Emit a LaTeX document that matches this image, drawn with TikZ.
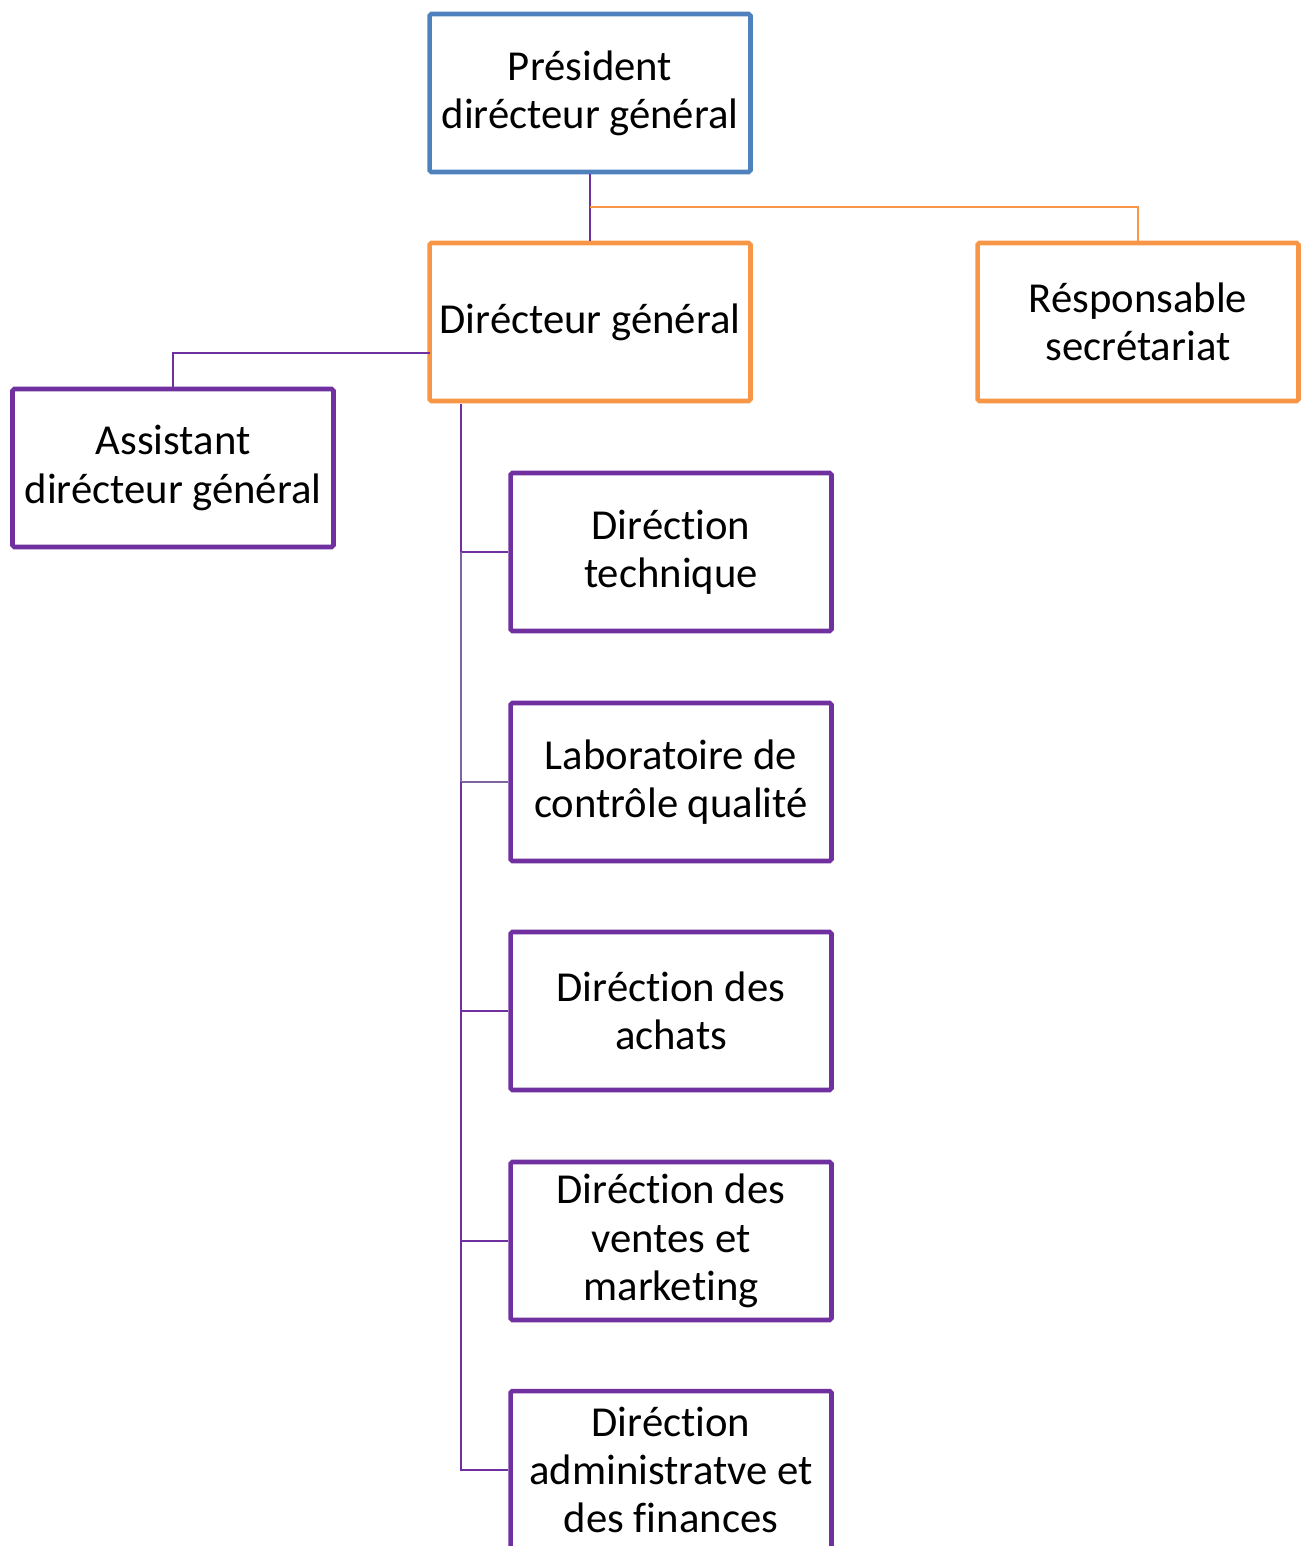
\documentclass[tikz,border=0pt]{standalone}
\usepackage{fontspec}
\setmainfont[Ligatures=NoCommon]{Carlito}
\usepackage{xcolor}
\usepackage{tikz}
\usetikzlibrary{positioning,calc}
\definecolor{pdgblue}{HTML}{4F81BD}
\definecolor{dgorange}{HTML}{F79646}
\definecolor{dirpurple}{HTML}{7030A0}
\definecolor{greypurple}{HTML}{8064A2}

\begin{document}
\begin{tikzpicture}[x=0.02cm, y=-0.02cm,
    unit/.style={rectangle, draw, line width=2.6pt, rounded corners=1pt,
        minimum width=6.42cm, minimum height=3.16cm, inner sep=0pt,
        align=center, font=\fontsize{24.3}{27.5}\selectfont},
    link/.style={draw=dirpurple, line width=1.1pt},
    staff/.style={draw=dgorange, line width=1.1pt}
]
    \useasboundingbox (0,0) rectangle (1307,1546);

    % top of the chart
    \node[unit, draw=pdgblue] (pdg) at (590,93) {Président\\dirécteur général};
    \node[unit, draw=dgorange] (dg) at (590,322) {Dirécteur général};
    \node[unit, draw=dgorange] (resp) at (1138,322) {Résponsable\\secrétariat};
    \node[unit, draw=dirpurple] (asst) at (173,468) {Assistant\\dirécteur général};

    % directions
    \node[unit, draw=dirpurple] (tech) at (671,552) {Diréction\\technique};
    \node[unit, draw=dirpurple] (labo) at (671,782) {Laboratoire de\\contrôle qualité};
    \node[unit, draw=dirpurple] (achats) at (671,1011) {Diréction des\\achats};
    \node[unit, draw=dirpurple] (ventes) at (671,1241) {Diréction des\\ventes et\\marketing};
    \node[unit, draw=dirpurple] (admin) at (671,1470) {Diréction\\administratve et\\des finances};

    \coordinate (split) at (590,207);
    \coordinate (side) at (430,353);
    \coordinate (trunk) at (461,404);

    \draw[link] (pdg) -- (dg);
    \draw[staff] (split) -| (resp);
    \draw[link] (side) -| (asst);

    \draw[link] (trunk) |- (tech);
    \draw[link, draw=greypurple] (trunk |- tech) |- (labo);
    \draw[link] (trunk |- labo) |- (achats);
    \draw[link] (trunk |- achats) |- (ventes);
    \draw[link] (trunk |- ventes) |- (admin);
\end{tikzpicture}
\end{document}
